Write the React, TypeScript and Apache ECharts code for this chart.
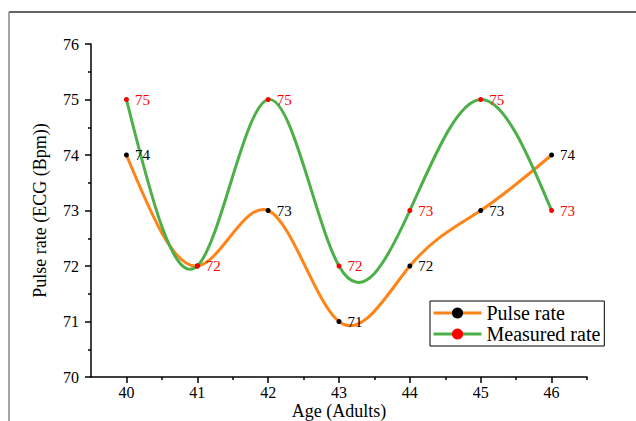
import React, { useEffect, useRef } from "react";
import * as echarts from "echarts";

const ages = [40, 41, 42, 43, 44, 45, 46];
const pulseRate = [74, 72, 73, 71, 72, 73, 74];
const measuredRate = [75, 72, 75, 72, 73, 75, 73];
const xMajorTicks = [40, 41, 42, 43, 44, 45, 46];
const xMinorTicks = [40.5, 41.5, 42.5, 43.5, 44.5, 45.5, 46.5];
const hiddenPulseLabels = [41];

const FONT = "'Liberation Serif', 'DejaVu Serif', serif";
const ORANGE = "#FF8418";
const GREEN = "#4CAF47";

// natural cubic spline slopes at each node (general x spacing)
function splineSlopes(xs: number[], ys: number[]): number[] {
  const n = xs.length;
  const h: number[] = [];
  for (let i = 0; i < n - 1; i++) h.push(xs[i + 1] - xs[i]);
  const a: number[] = new Array(n).fill(0);
  const b: number[] = new Array(n).fill(1);
  const c: number[] = new Array(n).fill(0);
  const r: number[] = new Array(n).fill(0);
  for (let i = 1; i < n - 1; i++) {
    a[i] = h[i - 1];
    b[i] = 2 * (h[i - 1] + h[i]);
    c[i] = h[i];
    r[i] = 6 * ((ys[i + 1] - ys[i]) / h[i] - (ys[i] - ys[i - 1]) / h[i - 1]);
  }
  const cp = new Array(n).fill(0);
  const rp = new Array(n).fill(0);
  cp[0] = c[0] / b[0];
  rp[0] = r[0] / b[0];
  for (let i = 1; i < n; i++) {
    const m = b[i] - a[i] * cp[i - 1];
    cp[i] = c[i] / m;
    rp[i] = (r[i] - a[i] * rp[i - 1]) / m;
  }
  const M = new Array(n).fill(0);
  M[n - 1] = rp[n - 1];
  for (let i = n - 2; i >= 0; i--) M[i] = rp[i] - cp[i] * M[i + 1];
  const d: number[] = [];
  for (let i = 0; i < n; i++) {
    if (i < n - 1) {
      d.push((ys[i + 1] - ys[i]) / h[i] - (h[i] * (2 * M[i] + M[i + 1])) / 6);
    } else {
      d.push((ys[i] - ys[i - 1]) / h[i - 1] + (h[i - 1] * (M[i - 1] + 2 * M[i])) / 6);
    }
  }
  return d;
}

function splineSeries(name: string, ys: number[], color: string) {
  const slopes = splineSlopes(ages, ys);
  return {
    name,
    type: "custom",
    z: 2,
    silent: true,
    data: ages.map((a, i) => [a, ys[i]]),
    encode: { x: 0, y: 1 },
    renderItem: (params: any, api: any) => {
      const i = params.dataIndex;
      if (i >= ages.length - 1) return null;
      const h = ages[i + 1] - ages[i];
      const p0 = api.coord([ages[i], ys[i]]);
      const p1 = api.coord([ages[i] + h / 3, ys[i] + (slopes[i] * h) / 3]);
      const p2 = api.coord([ages[i + 1] - h / 3, ys[i + 1] - (slopes[i + 1] * h) / 3]);
      const p3 = api.coord([ages[i + 1], ys[i + 1]]);
      return {
        type: "bezierCurve",
        shape: {
          x1: p0[0], y1: p0[1],
          cpx1: p1[0], cpy1: p1[1],
          cpx2: p2[0], cpy2: p2[1],
          x2: p3[0], y2: p3[1],
        },
        style: { stroke: color, lineWidth: 3, fill: "none" },
      };
    },
  };
}

export default function App() {
  const ref = useRef<HTMLDivElement>(null);
  useEffect(() => {
    if (!ref.current) return;
    const chart = echarts.init(ref.current, null, { renderer: "svg" });
    const axisLine = { show: true, lineStyle: { color: "#000", width: 1.5 } };
    chart.setOption({
      animation: false,
      backgroundColor: "#fff",
      textStyle: { fontFamily: FONT },
      grid: { left: 91, top: 44, right: 49, bottom: 44, outerBoundsMode: "none", containLabel: false },
      graphic: [
        { type: "line", shape: { x1: 9, y1: 12, x2: 640, y2: 12 }, style: { stroke: "#333", lineWidth: 1.5 } },
        { type: "line", shape: { x1: 9, y1: 12, x2: 9, y2: 425 }, style: { stroke: "#888", lineWidth: 1.5 } },
      ],
      legend: {
        orient: "vertical",
        left: 430,
        top: 301,
        padding: [2, 4, 2, 2],
        itemGap: 1,
        itemWidth: 48,
        itemHeight: 14,
        backgroundColor: "#fff",
        borderColor: "#000",
        borderWidth: 1,
        borderRadius: 0,
        textStyle: { fontFamily: FONT, fontSize: 20, color: "#000" },
        data: [
          { name: "Pulse rate", lineStyle: { opacity: 1, color: ORANGE, width: 3 } },
          { name: "Measured rate", lineStyle: { opacity: 1, color: GREEN, width: 3 } },
        ],
      },
      xAxis: [
        {
          type: "value",
          min: 39.5,
          max: 46.5,
          position: "bottom",
          axisLine,
          splitLine: { show: false },
          axisTick: { show: true, length: 6, customValues: xMajorTicks, lineStyle: { color: "#000", width: 1.5 } },
          axisLabel: { customValues: xMajorTicks, color: "#000", fontFamily: FONT, fontSize: 16, margin: 7 },
          name: "Age (Adults)",
          nameLocation: "middle",
          nameGap: 25,
          nameMoveOverlap: false,
          nameTextStyle: { fontFamily: FONT, fontSize: 18, color: "#000" },
        },
        {
          type: "value",
          min: 39.5,
          max: 46.5,
          position: "bottom",
          axisLine: { show: false },
          splitLine: { show: false },
          axisTick: { show: true, length: 3, customValues: xMinorTicks, lineStyle: { color: "#000", width: 1.5 } },
          axisLabel: { show: false },
        },
      ],
      yAxis: {
        type: "value",
        min: 70,
        max: 76,
        interval: 1,
        axisLine,
        splitLine: { show: false },
        axisTick: { show: true, length: 6, lineStyle: { color: "#000", width: 1.5 } },
        minorTick: { show: true, splitNumber: 2, length: 3, lineStyle: { color: "#000", width: 1.5 } },
        axisLabel: { color: "#000", fontFamily: FONT, fontSize: 16, margin: 12 },
        name: "Pulse rate (ECG (Bpm))",
        nameLocation: "middle",
        nameGap: 42,
        nameMoveOverlap: false,
        nameTextStyle: { fontFamily: FONT, fontSize: 18, color: "#000" },
      },
      series: [
        splineSeries("Pulse rate curve", pulseRate, ORANGE),
        splineSeries("Measured rate curve", measuredRate, GREEN),
        {
          name: "Pulse rate",
          type: "line",
          symbol: "circle",
          symbolSize: 5,
          lineStyle: { color: ORANGE, width: 3, opacity: 0 },
          itemStyle: { color: "#000" },
          label: { show: true, position: "right", distance: 6, color: "#000", fontFamily: FONT, fontSize: 15 },
          data: ages.map((a, i) =>
            hiddenPulseLabels.includes(a)
              ? { value: [a, pulseRate[i]], label: { show: false } }
              : { value: [a, pulseRate[i]] }
          ),
          encode: { x: 0, y: 1, label: 1 },
          z: 3,
        },
        {
          name: "Measured rate",
          type: "line",
          symbol: "circle",
          symbolSize: 5,
          lineStyle: { color: GREEN, width: 3, opacity: 0 },
          itemStyle: { color: "#FF0000" },
          label: { show: true, position: "right", distance: 6, color: "#FF0000", fontFamily: FONT, fontSize: 15 },
          data: ages.map((a, i) => [a, measuredRate[i]]),
          encode: { x: 0, y: 1, label: 1 },
          z: 4,
        },
      ],
    });
    return () => chart.dispose();
  }, []);
  return (
    <div
      ref={ref}
      style={{ position: "fixed", left: 0, top: 0, width: 636, height: 421, background: "#fff" }}
    />
  );
}
